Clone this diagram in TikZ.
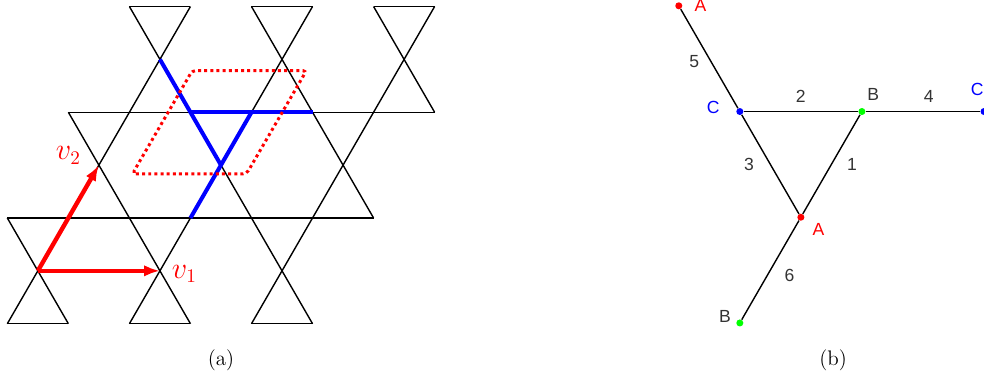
\documentclass[tikz,border=0pt]{standalone}
\usepackage{fontspec}
\setsansfont{Liberation Sans}
\usepackage{tikz}
\usetikzlibrary{arrows.meta,positioning,calc}

\begin{document}
\begin{tikzpicture}[x=1.222cm, y=1.222cm,
    kagome/.style={black, line width=0.8pt},
    ybond/.style={blue, line width=2.3pt},
    unitcell/.style={red, line width=1.7pt, dash pattern=on 1.7pt off 1.8pt, rounded corners=2pt},
    vec/.style={red, line width=2.5pt, -{Latex[length=9pt,width=6.5pt]}},
    veclabel/.style={red, font=\fontsize{16}{19}\selectfont},
    bond/.style={black, line width=0.8pt},
    site/.style={circle, fill=#1, inner sep=0pt, minimum size=4pt},
    sitetag/.style={font=\sffamily, inner sep=1pt},
    bondnum/.style={font=\sffamily, text=black!80, inner sep=1pt},
    caption/.style={font=\large}]
    \useasboundingbox (-0.62,-1.70) rectangle (15.5,4.437);

    % Kagome lattice (a): horizontal lines
    \draw[kagome] (-0.5,-0.866) -- (0.5,-0.866);
    \draw[kagome] (1.5,-0.866) -- (2.5,-0.866);
    \draw[kagome] (3.5,-0.866) -- (4.5,-0.866);
    \draw[kagome] (-0.5,0.866) -- (5.5,0.866);
    \draw[kagome] (0.5,2.598) -- (6.5,2.598);
    \draw[kagome] (1.5,4.330) -- (2.5,4.330);
    \draw[kagome] (3.5,4.330) -- (4.5,4.330);
    \draw[kagome] (5.5,4.330) -- (6.5,4.330);
    % rising lines
    \draw[kagome] (-0.5,-0.866) -- (2.5,4.330);
    \draw[kagome] (1.5,-0.866) -- (4.5,4.330);
    \draw[kagome] (3.5,-0.866) -- (6.5,4.330);
    % falling lines
    \draw[kagome] (0.5,-0.866) -- (-0.5,0.866);
    \draw[kagome] (2.5,-0.866) -- (0.5,2.598);
    \draw[kagome] (4.5,-0.866) -- (1.5,4.330);
    \draw[kagome] (5.5,0.866) -- (3.5,4.330);
    \draw[kagome] (6.5,2.598) -- (5.5,4.330);

    % Bonds of one cell (blue)
    \draw[ybond] (2,3.464) -- (3,1.732);
    \draw[ybond] (2.5,0.866) -- (3.5,2.598);
    \draw[ybond] (2.5,2.598) -- (4.5,2.598);

    % Unit cell (dotted)
    \draw[unitcell] (1.55,1.59) -- (3.42,1.59) -- (4.40,3.28) -- (2.53,3.28) -- cycle;

    % Lattice vectors
    \coordinate (O) at (0,0);
    \coordinate (T1) at (2,0);
    \coordinate (T2) at (1,1.732);
    \draw[vec] (O) -- (T1);
    \draw[vec] (O) -- (T2);
    \node[veclabel] (v1) at ($(T1)+(0.40,-0.05)$) {$v_1$};
    \node[veclabel] (v2) at ($(T2)+(-0.50,0.16)$) {$v_2$};

    \node[caption] (capa) at (3,-1.47) {(a)};

    % Bond graph (b)
    \node[site=red] (A1) at (10.5,4.342) {};
    \node[site=blue] (C1) at (11.5,2.61) {};
    \node[site=green] (B1) at (13.5,2.61) {};
    \node[site=blue] (C2) at (15.5,2.61) {};
    \node[site=red] (A2) at (12.5,0.878) {};
    \node[site=green] (B2) at (11.5,-0.854) {};

    \draw[bond] (A1) -- node[bondnum, pos=0.53, left=5.4pt] {5} (C1);
    \draw[bond] (C1) -- node[bondnum, above=3.6pt] {2} (B1);
    \draw[bond] (B1) -- node[bondnum, pos=0.55, above=3.6pt] {4} (C2);
    \draw[bond] (C1) -- node[bondnum, left=8pt] {3} (A2);
    \draw[bond] (B1) -- node[bondnum, right=7.6pt] {1} (A2);
    \draw[bond] (A2) -- node[bondnum, pos=0.55, right=8.3pt] {6} (B2);

    \node[sitetag, red] (tA1) at ($(A1)+(0.355,0)$) {A};
    \node[sitetag, blue] (tC1) at ($(C1)+(-0.437,0.072)$) {C};
    \node[sitetag, black!80] (tB1) at ($(B1)+(0.187,0.273)$) {B};
    \node[sitetag, blue] (tC2) at ($(C2)+(-0.11,0.355)$) {C};
    \node[sitetag, red] (tA2) at ($(A2)+(0.288,-0.196)$) {A};
    \node[sitetag, black!80] (tB2) at ($(B2)+(-0.244,0.103)$) {B};

    \node[caption] (capb) at (13.03,-1.47) {(b)};
\end{tikzpicture}
\end{document}
